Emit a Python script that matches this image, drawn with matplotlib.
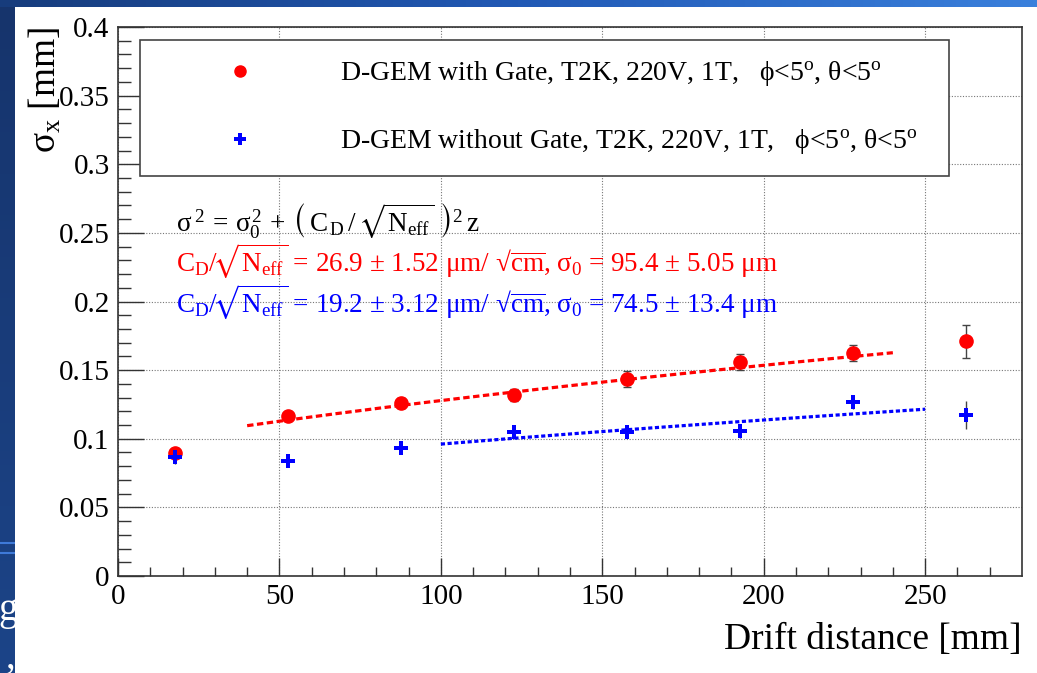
import numpy as np
import matplotlib.pyplot as plt
from matplotlib.lines import Line2D
from matplotlib.colors import LinearSegmentedColormap

plt.rcParams['font.family'] = ['Liberation Serif', 'DejaVu Serif']
plt.rcParams['mathtext.fontset'] = 'custom'
plt.rcParams['mathtext.rm'] = 'Liberation Serif'
plt.rcParams['mathtext.it'] = 'Liberation Serif'
plt.rcParams['mathtext.bf'] = 'Liberation Serif:bold'
plt.rcParams['mathtext.fallback'] = 'stix'

# drift distance [mm] and measured resolution [mm]
drift = np.array([17.5, 52.5, 87.5, 122.5, 157.5, 192.5, 227.5, 262.5])
sigma_gate = np.array([0.0896, 0.1166, 0.1260, 0.1320, 0.1435, 0.1560, 0.1625, 0.1710])
err_gate = np.array([0.002, 0.002, 0.0035, 0.0045, 0.006, 0.006, 0.006, 0.012])
sigma_nogate = np.array([0.0867, 0.0838, 0.0933, 0.1050, 0.1050, 0.1056, 0.1268, 0.1173])
err_nogate = np.array([0.005, 0.002, 0.002, 0.003, 0.003, 0.005, 0.005, 0.010])

# fit results: C_D/sqrt(Neff) [um/sqrt(cm)], error, sigma0 [um], error
fit_gate = [26.9, 1.52, 95.4, 5.05]
fit_nogate = [19.2, 3.12, 74.5, 13.4]
range_gate = [40, 240]
range_nogate = [100, 250]

legend_gate = r'D-GEM with Gate, T2K, 220V, 1T,   $\phi$<5$^{\rm o}$, $\theta$<5$^{\rm o}$'
legend_nogate = r'D-GEM without Gate, T2K, 220V, 1T,   $\phi$<5$^{\rm o}$, $\theta$<5$^{\rm o}$'


def sigma_fit(z, cd, s0):
    # z in mm -> cm, result in mm
    return np.sqrt(s0**2 + cd**2 * z / 10.0) / 1000.0


def fit_label(p, fmt_err0):
    return (r'$\mathrm{C}_{D}/\!\sqrt{\mathrm{N}_{\mathrm{eff}}}$'
            + ' = %.1f $\\pm$ %.2f $\\mu$m/ √$\\overline{\\rm cm}$, $\\sigma_{0}$ = %.1f $\\pm$ '
            % (p[0], p[1], p[2]) + fmt_err0 % p[3] + ' $\\mu$m')


fig = plt.figure(figsize=(10.37, 6.73), dpi=100)

# slide decoration: blue band on top and strip on the left
top = fig.add_axes([0, 1 - 7 / 673, 1, 7 / 673])
top.imshow(np.linspace(0, 1, 256)[None, :], aspect='auto',
           cmap=LinearSegmentedColormap.from_list('band', ['#173c7c', '#2159b5', '#3a80dc']))
top.set_axis_off()
strip = fig.add_axes([0, 0, 15 / 1037, 1 - 7 / 673])
strip.imshow(np.linspace(0, 1, 256)[:, None], aspect='auto', extent=[0, 1, 0, 1],
             cmap=LinearSegmentedColormap.from_list('strip', ['#16346c', '#1c4488']))
strip.axhline((673 - 543) / 666, color='#3f7ad8', lw=1.5)
strip.axhline((673 - 553) / 666, color='#3f7ad8', lw=1.5)
strip.text(1.15, (673 - 620) / 666, 'g', color='white', fontsize=28, ha='right',
           va='baseline', transform=strip.transAxes, clip_on=True)
strip.text(1.0, (673 - 668) / 666, ',', color='white', fontsize=28, ha='right',
           va='baseline', transform=strip.transAxes, clip_on=True)
strip.set_xlim(0, 1)
strip.set_ylim(0, 1)
strip.set_axis_off()

ax = fig.add_axes([118 / 1037, 97 / 673, 904 / 1037, 549 / 673])
ax.set_xlim(0, 280)
ax.set_ylim(0, 0.4)

ax.errorbar(drift, sigma_gate, yerr=err_gate, fmt='o', color='red', ms=9.5,
            ecolor='#444444', elinewidth=1, capsize=3, capthick=1, zorder=4)
ax.errorbar(drift, sigma_nogate, yerr=err_nogate, fmt='P', color='blue', ms=9.5,
            mew=0, ecolor='#444444', elinewidth=1, capsize=3, capthick=1, zorder=4)

z1 = np.linspace(range_gate[0], range_gate[1], 200)
ax.plot(z1, sigma_fit(z1, fit_gate[0], fit_gate[2]), color='red', lw=2.3,
        ls=(0, (2.0, 1.1)), zorder=3)
z2 = np.linspace(range_nogate[0], range_nogate[1], 200)
ax.plot(z2, sigma_fit(z2, fit_nogate[0], fit_nogate[2]), color='blue', lw=2.3,
        ls=(0, (1.3, 0.8)), zorder=3)

ax.text(18, 0.2506, r'$\sigma^{\,2}\,=\,\sigma_{0}^{2}\,+\,\left(\,\mathrm{C}_{\,D}\,/\,\sqrt{\mathrm{N}_{\mathrm{eff}}}\ \right)^{2}\,z$',
        fontsize=19.5, color='black', va='baseline')
ax.text(18, 0.2215, fit_label(fit_gate, '%.2f'), fontsize=19.5, color='red', va='baseline')
ax.text(18, 0.1916, fit_label(fit_nogate, '%.1f'), fontsize=19.5, color='blue', va='baseline')

# axis style
ax.set_xticks(np.arange(0, 251, 50))
ax.set_xticks(np.arange(0, 280, 10), minor=True)
ax.set_yticks(np.arange(0, 0.401, 0.05))
ax.set_yticks(np.arange(0, 0.401, 0.01), minor=True)
ax.set_xticklabels(['0', '50', '100', '150', '200', '250'])
ax.set_yticklabels(['0', '0.05', '0.1', '0.15', '0.2', '0.25', '0.3', '0.35', '0.4'])
ax.tick_params(axis='both', which='both', direction='in', labelsize=21,
               color='#333333', width=1, top=False, right=False)
ax.tick_params(axis='x', which='major', length=13, pad=6)
ax.tick_params(axis='x', which='minor', length=6.5)
ax.tick_params(axis='y', which='major', length=19, pad=6)
ax.tick_params(axis='y', which='minor', length=9.5)
ax.grid(True, which='major', ls=(0, (1, 1.5)), color='#777777', lw=0.8)
for s in ax.spines.values():
    s.set_color('#333333')
    s.set_linewidth(1.2)

ax.set_xlabel('Drift distance [mm]', fontsize=27)
ax.xaxis.set_label_coords(1.0, -0.084)
ax.xaxis.label.set_ha('right')
ax.set_ylabel(r'$\sigma_{x}$ [mm]', fontsize=27)
ax.yaxis.set_label_coords(-0.06, 1.0)
ax.yaxis.label.set_ha('right')

handles = [Line2D([], [], ls='none', marker='o', color='red', ms=8),
           Line2D([], [], ls='none', marker='P', color='blue', ms=8, mew=0)]
leg = ax.legend(handles, [legend_gate, legend_nogate], fontsize=20,
                bbox_to_anchor=(21.5 / 904, 402 / 549, 809.5 / 904, 134 / 549),
                loc='upper left', mode='expand', fancybox=False, framealpha=1,
                edgecolor='#444444', borderpad=0.7, labelspacing=1.4,
                handlelength=5.85, handletextpad=0.65, borderaxespad=0)
leg.get_frame().set_linewidth(1.2)

fig.savefig('out.png', dpi=100)
